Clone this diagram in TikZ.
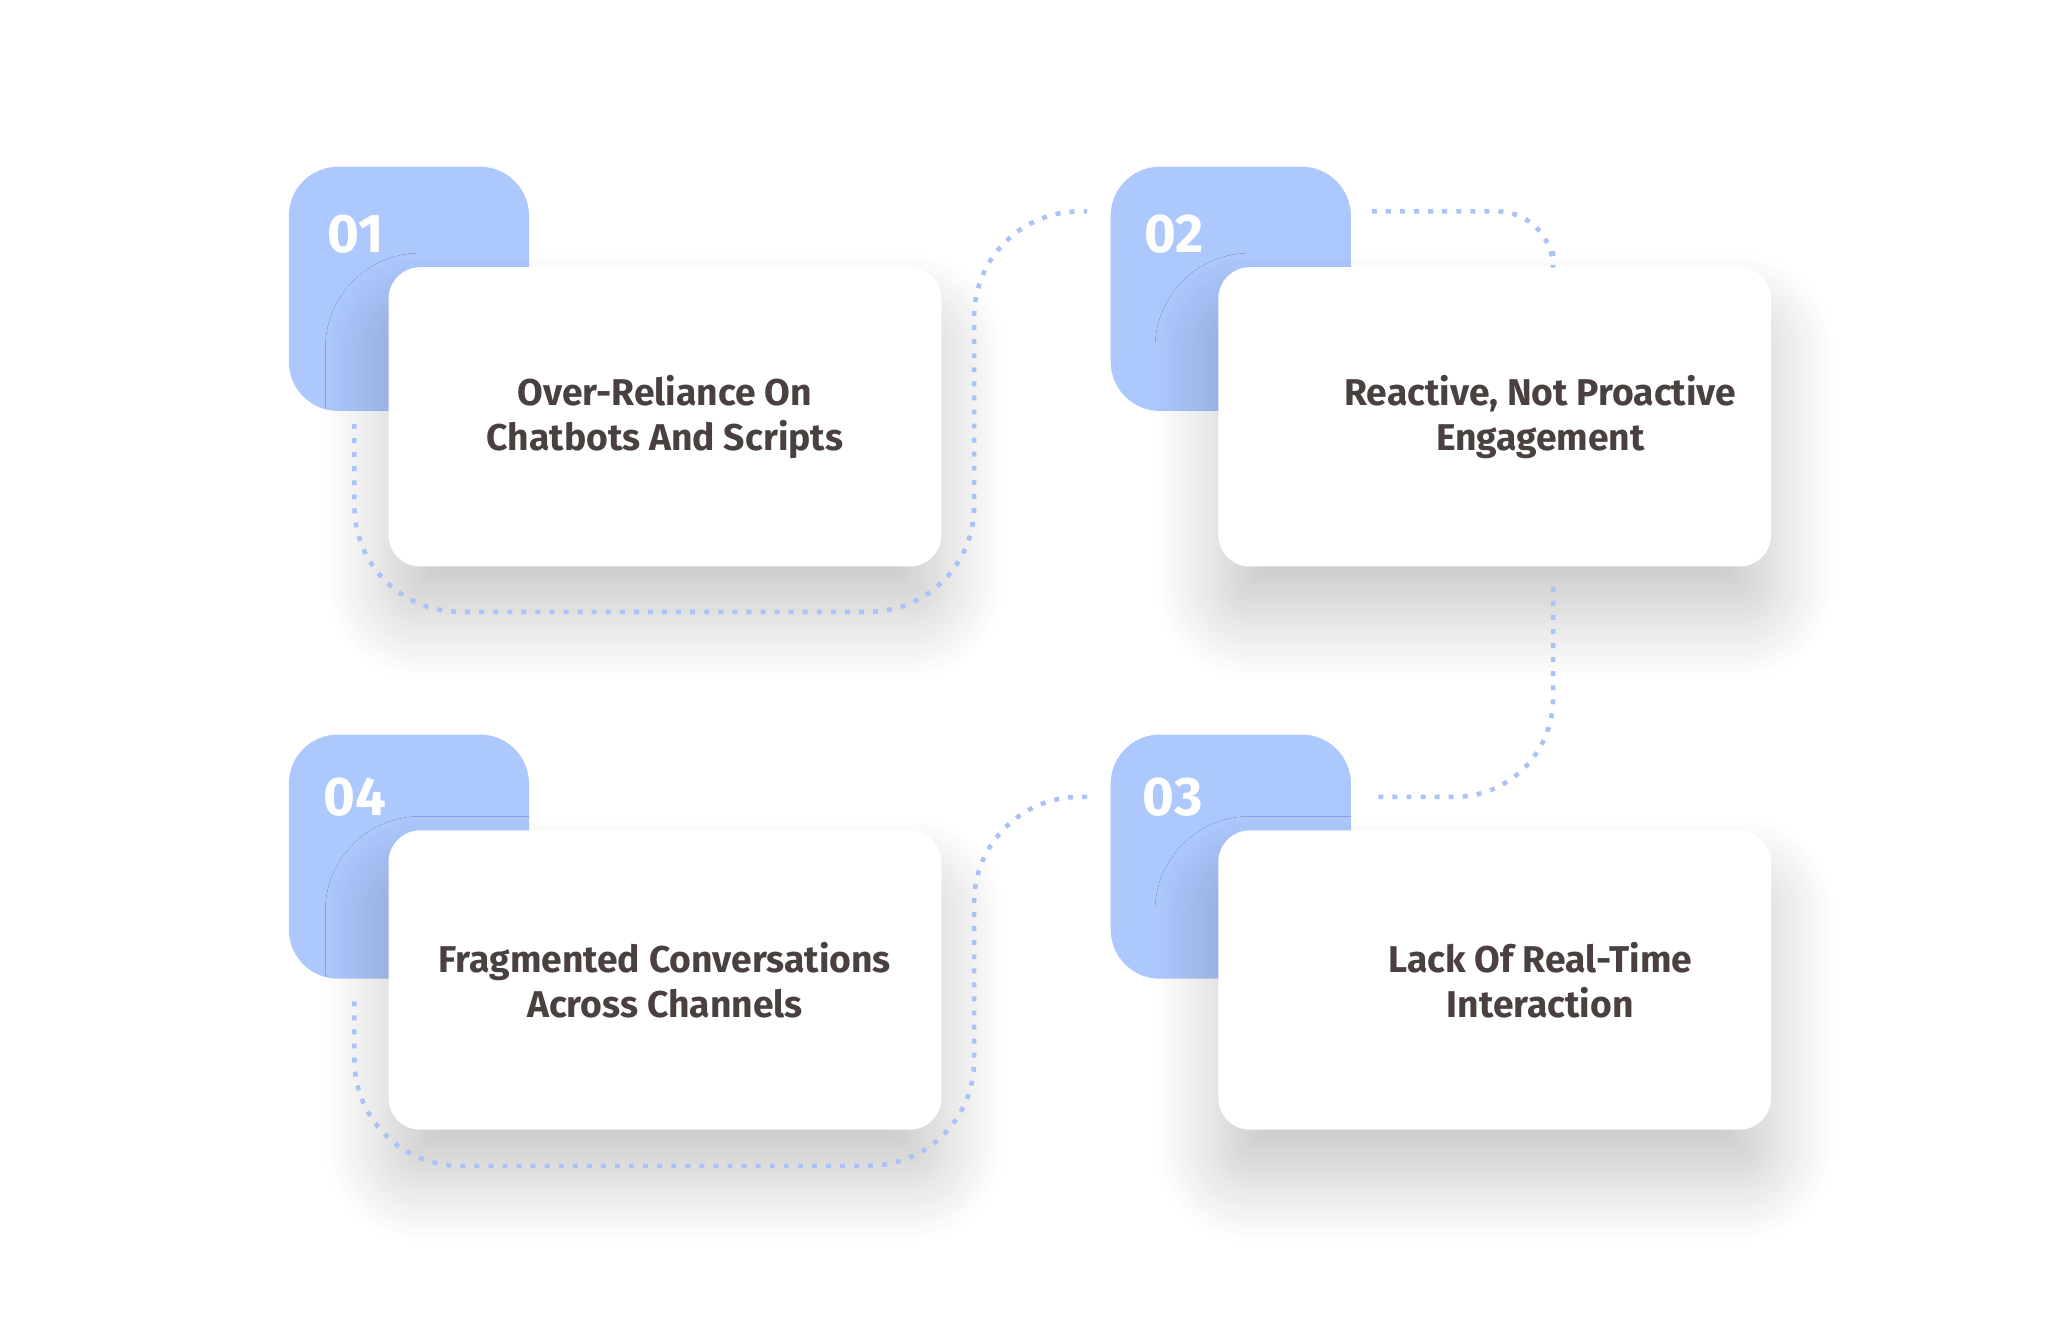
\documentclass[tikz,border=0pt]{standalone}
\usepackage{fontspec}
\setmainfont{Fira Sans}
\usetikzlibrary{positioning,shadows.blur}
\definecolor{tabblue}{HTML}{ADC8FD}
\definecolor{dotblue}{HTML}{A9C3F7}
\definecolor{txtgray}{HTML}{4A4040}
\newlength{\pxu}
\setlength{\pxu}{0.013128cm}
\tikzset{
	numtab/.style={fill=tabblue, rounded corners=14pt, minimum width=183\pxu, minimum height=186\pxu, inner sep=0pt},
	card/.style={fill=white, rounded corners=9pt, minimum width=421\pxu, minimum height=228\pxu, inner sep=0pt,
		blur shadow={shadow xshift=0pt, shadow yshift=-14pt, shadow blur radius=18pt, shadow opacity=22, shadow blur steps=20},
		align=center, text=txtgray, font=\fontsize{10.6}{12.8}\selectfont\bfseries},
	numtxt/.style={text=white, font=\fontsize{15.5}{18}\selectfont\bfseries, anchor=west},
	dots/.style={dotblue, line width=1.3pt, dash pattern=on 1.4pt off 2.6pt, rounded corners=16pt}
}
\begin{document}
\begin{tikzpicture}[x=0.013128cm, y=-0.013128cm]
	\useasboundingbox (0,0) rectangle (1560,1013);
	% tabs
	\node[numtab] (t1) at (311.5,220) {};
	\node[numtab] (t2) at (937.5,220) {};
	\node[numtab] (t4) at (311.5,652.5) {};
	\node[numtab] (t3) at (937.5,652.5) {};
	% numbers
	\node[numtxt] (n1) at (240,178) {01};
	\node[numtxt] (n2) at (862,178) {02};
	\node[numtxt] (n4) at (237,607) {04};
	\node[numtxt] (n3) at (861,607) {03};
	% cards
	\node[card] (c1) at (506.5,317.5) {Over-Reliance On\\Chatbots And Scripts};
	\node[card] (c2) at (1138.5,317.5) {\hspace*{26pt}Reactive, Not Proactive\\\hspace*{26pt}Engagement};
	\node[card] (c4) at (506.5,746.5) {Fragmented Conversations\\Across Channels};
	\node[card] (c3) at (1138.5,746.5) {\hspace*{26pt}Lack Of Real-Time\\\hspace*{26pt}Interaction};
	% dotted paths
	\coordinate (a1) at (270,323);
	\coordinate (a2) at (828,161);
	\coordinate (b1) at (1045,161);
	\coordinate (b2) at (1183,187);
	\coordinate (d1) at (1183,447);
	\coordinate (d2) at (1047,607);
	\coordinate (e1) at (828,607);
	\coordinate (e2) at (270,757);
	\draw[dots, rounded corners=30pt] (a1) -- (270,466) -- (742,466) -- (742,161) -- (a2);
	\draw[dots] (b1) -- (1183,161) -- (b2);
	\draw[dots, rounded corners=28pt] (d1) -- (1183,607) -- (d2);
	\draw[dots, rounded corners=30pt] (e1) -- (742,607) -- (742,888) -- (270,888) -- (e2);
\end{tikzpicture}
\end{document}
